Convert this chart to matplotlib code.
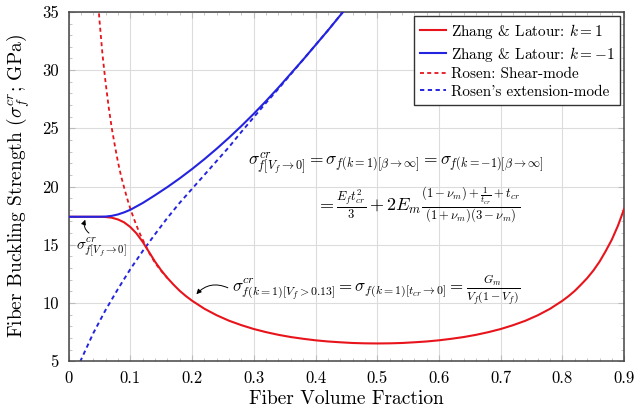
import matplotlib
matplotlib.use("Agg")
import matplotlib.pyplot as plt
from matplotlib.ticker import MultipleLocator

plt.rcParams['font.family'] = ['cmr10', 'DejaVu Serif']
plt.rcParams['mathtext.fontset'] = 'cm'
plt.rcParams['axes.formatter.use_mathtext'] = True

# Zhang & Latour, k = 1
vf_k1 = [0.00, 0.02, 0.04, 0.05, 0.06, 0.07, 0.08, 0.09, 0.10, 0.11, 0.12, 0.13,
         0.14, 0.15, 0.16, 0.17, 0.18, 0.19, 0.20, 0.22, 0.24, 0.26, 0.28, 0.30,
         0.32, 0.34, 0.36, 0.38, 0.40, 0.42, 0.44, 0.46, 0.48, 0.50, 0.52, 0.54,
         0.56, 0.58, 0.60, 0.62, 0.64, 0.66, 0.68, 0.70, 0.72, 0.74, 0.76, 0.78,
         0.80, 0.81, 0.82, 0.83, 0.84, 0.85, 0.86, 0.87, 0.88, 0.89, 0.90]
sig_k1 = [17.4, 17.4, 17.4, 17.4, 17.38, 17.32, 17.17, 16.92, 16.52, 15.97, 15.25, 14.4,
          13.55, 12.8, 12.15, 11.57, 11.04, 10.59, 10.19, 9.50, 8.94, 8.47, 8.09, 7.76,
          7.49, 7.26, 7.07, 6.92, 6.79, 6.69, 6.62, 6.56, 6.53, 6.52, 6.53, 6.56,
          6.62, 6.69, 6.79, 6.92, 7.07, 7.26, 7.49, 7.76, 8.09, 8.47, 8.94, 9.50,
          10.19, 10.59, 11.04, 11.57, 12.13, 12.78, 13.54, 14.45, 15.44, 16.65, 18.1]

# Zhang & Latour, k = -1
vf_km1 = [0.00, 0.02, 0.04, 0.05, 0.06, 0.07, 0.08, 0.09, 0.10, 0.12, 0.14, 0.16,
          0.18, 0.20, 0.22, 0.24, 0.26, 0.28, 0.30, 0.32, 0.34, 0.36, 0.38, 0.40,
          0.42, 0.44, 0.45]
sig_km1 = [17.4, 17.4, 17.4, 17.4, 17.42, 17.48, 17.6, 17.78, 18.0, 18.58, 19.25, 19.95,
           20.7, 21.5, 22.35, 23.25, 24.2, 25.2, 26.25, 27.35, 28.5, 29.7, 30.9, 32.15,
           33.4, 34.7, 35.35]

# Rosen: shear mode
vf_shear = [0.045, 0.05, 0.055, 0.06, 0.065, 0.07, 0.075, 0.08, 0.085, 0.09, 0.095,
            0.10, 0.105, 0.11, 0.115, 0.12, 0.125, 0.13, 0.135, 0.14, 0.15, 0.16]
sig_shear = [37.9, 34.3, 31.3, 28.9, 26.8, 25.0, 23.5, 22.1, 20.9, 19.9, 18.95,
             18.1, 17.35, 16.65, 16.0, 15.44, 14.9, 14.35, 13.9, 13.45, 12.75, 12.13]

# Rosen: extension mode
vf_ext = [0.01, 0.02, 0.04, 0.06, 0.08, 0.10, 0.12, 0.14, 0.16, 0.18, 0.20, 0.22,
          0.24, 0.26, 0.28, 0.30, 0.32, 0.34, 0.36, 0.38, 0.40, 0.42, 0.44, 0.45]
sig_ext = [3.7, 5.1, 7.4, 9.4, 11.2, 12.9, 14.45, 15.9, 17.3, 18.6, 19.8, 21.0,
           22.2, 23.4, 24.7, 25.95, 27.2, 28.4, 29.65, 30.9, 32.15, 33.4, 34.7, 35.35]

x_ticks = [0, 0.1, 0.2, 0.3, 0.4, 0.5, 0.6, 0.7, 0.8, 0.9]
x_tick_labels = ['0', '0.1', '0.2', '0.3', '0.4', '0.5', '0.6', '0.7', '0.8', '0.9']
y_ticks = [5, 10, 15, 20, 25, 30, 35]
y_tick_labels = ['5', '10', '15', '20', '25', '30', '35']

red = '#e8141c'
blue = '#2424e0'

fig = plt.figure(figsize=(6.35, 4.09), dpi=100)
ax = fig.add_axes([0.108, 0.117, 0.875, 0.854])

ax.plot(vf_shear, sig_shear, color=red, lw=1.3, ls=(0, (2.2, 1.8)),
        label='Rosen: Shear-mode', zorder=2)
ax.plot(vf_ext, sig_ext, color=blue, lw=1.4, ls=(0, (2.2, 1.8)),
        label="Rosen's extension-mode", zorder=2)
ax.plot(vf_k1, sig_k1, color=red, lw=1.5, label=r'Zhang & Latour: $k=1$', zorder=3)
ax.plot(vf_km1, sig_km1, color=blue, lw=1.5, label=r'Zhang & Latour: $k=-1$', zorder=4)

ax.set_xlim(0, 0.9)
ax.set_ylim(5, 35)
ax.set_xticks(x_ticks)
ax.set_xticklabels(x_tick_labels)
ax.set_yticks(y_ticks)
ax.set_yticklabels(y_tick_labels)
ax.xaxis.set_minor_locator(MultipleLocator(0.02))
ax.yaxis.set_minor_locator(MultipleLocator(1))
ax.tick_params(which='both', direction='in', top=True, right=True, labelsize=12,
               color='#bbbbbb', pad=7)
ax.tick_params(which='major', length=4)
ax.tick_params(which='minor', length=2.5)
ax.grid(True, which='major', color='#dcdcdc', lw=0.8)
ax.set_axisbelow(True)
for s in ax.spines.values():
    s.set_color('#444444')
    s.set_linewidth(1.1)

ax.set_xlabel('Fiber Volume Fraction', fontsize=14, labelpad=3)
ax.set_ylabel(r'Fiber Buckling Strength ($\sigma_f^{cr}$; GPa)', fontsize=14)
ax.yaxis.set_label_coords(-0.064, 0.5)

handles, labels = ax.get_legend_handles_labels()
order = [2, 3, 0, 1]
leg = ax.legend([handles[i] for i in order], [labels[i] for i in order],
                loc='upper right', fontsize=11, handlelength=1.7, handletextpad=0.3,
                borderpad=0.4, labelspacing=0.25, fancybox=False, framealpha=1,
                edgecolor='#333333', borderaxespad=0.25)
leg.get_frame().set_linewidth(1.0)

arrow_kw = dict(arrowstyle='-|>', mutation_scale=7, lw=0.7, color='black',
                shrinkA=0, shrinkB=0)

ax.text(0.012, 14.8, r'$\sigma^{cr}_{f[V_f\to 0]}$', fontsize=11, ha='left', va='center')
ax.annotate('', xy=(0.027, 17.15), xytext=(0.033, 16.0),
            arrowprops=dict(connectionstyle='arc3,rad=-0.35', **arrow_kw))

ax.text(0.291, 22.0,
        r'$\sigma^{cr}_{f[V_f\to 0]} = \sigma_{f(k=1)[\beta\to\infty]}'
        r' = \sigma_{f(k=-1)[\beta\to\infty]}$',
        fontsize=12.5, ha='left', va='center')
ax.text(0.400, 18.3,
        r'$= \frac{E_f t_{cr}^2}{3} + 2E_m\frac{(1-\nu_m)+\frac{1}{t_{cr}}+t_{cr}}'
        r'{(1+\nu_m)(3-\nu_m)}$',
        fontsize=13, ha='left', va='center')

ax.text(0.265, 11.1,
        r'$\sigma^{cr}_{f(k=1)[V_f>0.13]} = \sigma_{f(k=1)[t_{cr}\to 0]}'
        r' = \frac{G_m}{V_f(1-V_f)}$',
        fontsize=12.2, ha='left', va='center')
ax.annotate('', xy=(0.207, 10.75), xytext=(0.258, 11.3),
            arrowprops=dict(connectionstyle='arc3,rad=0.35', **arrow_kw))

fig.savefig('out.png', dpi=100)
